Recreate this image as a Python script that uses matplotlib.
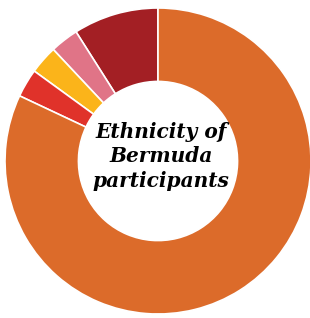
import matplotlib.pyplot as plt

labels = ["Group A", "Group B", "Group C", "Group D", "Group E"]
values = [9, 3, 3, 3, 82]
colors = ["#A31F24", "#E07487", "#FBB41A", "#E0322A", "#DC6B2A"]


def main():
    fig = plt.figure(figsize=(3.10, 3.18), dpi=100)
    ax = fig.add_axes([5 / 310, 4 / 318, 306 / 310, 306 / 318])
    ax.pie(values, colors=colors, startangle=90, counterclock=True,
           radius=1.0,
           wedgeprops=dict(width=0.48, edgecolor="white", linewidth=1.2))
    ax.set_xlim(-1, 1)
    ax.set_ylim(-1, 1)
    ax.set_aspect("auto")
    ax.axis("off")

    ax.text(0.02, 0.03, "Ethnicity of\nBermuda\nparticipants", ha="center",
            va="center", fontsize=14.5, fontweight="bold", fontstyle="italic",
            family="DejaVu Serif", linespacing=1.3)

    fig.savefig("out.png", dpi=100, facecolor="white")


if __name__ == "__main__":
    main()
